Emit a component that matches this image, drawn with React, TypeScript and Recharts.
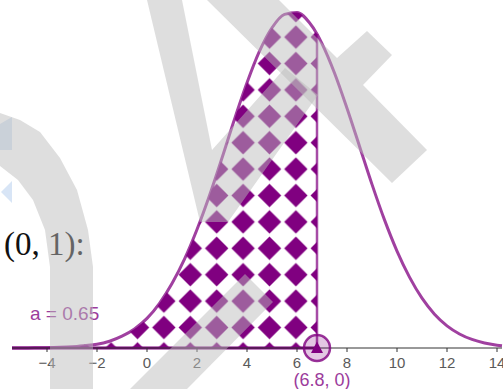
import React from 'react';
import {
  ComposedChart,
  Area,
  Line,
  XAxis,
  YAxis,
  ReferenceLine,
  ReferenceDot,
} from 'recharts';

// x positions along the axis and the curve height read at each of them
const xValues = [
  -5.4, -5, -4.5, -4, -3.5, -3, -2.5, -2, -1.5, -1, -0.5, 0, 0.5, 1, 1.5, 2, 2.5, 3, 3.5, 4,
  4.5, 5, 5.5, 6, 6.5, 6.8, 7, 7.5, 8, 8.5, 9, 9.5, 10, 10.5, 11, 11.5, 12, 12.5, 13, 13.5, 14,
  14.2,
];
const densityValues = [
  0.00002, 0.00004, 0.00008, 0.00016, 0.00032, 0.0006, 0.0011, 0.0017, 0.0031, 0.0054, 0.0087,
  0.0135, 0.0204, 0.0294, 0.0405, 0.054, 0.0695, 0.0866, 0.1043, 0.1209, 0.1353, 0.146, 0.1521,
  0.153, 0.1483, 0.1432, 0.1388, 0.1254, 0.1093, 0.092, 0.0746, 0.0584, 0.0442, 0.0323, 0.0227,
  0.0154, 0.0101, 0.0064, 0.0039, 0.0023, 0.0013, 0.001,
];
const xTicks = [-4, -2, 0, 2, 4, 6, 8, 10, 12, 14];

const cutoff = 6.8;
const cutoffDensity = 0.1432;
const areaLabel = 'a = 0.65';
const pointLabel = '(6.8, 0)';

const PURPLE = '#800080';
const LABEL_PURPLE = '#9c3c9c';

const rows = xValues.map((x, i) => ({
  x,
  y: densityValues[i],
  shade: x <= cutoff ? densityValues[i] : null,
}));

const fmtTick = (v: number) => (v < 0 ? `\u2212${-v}` : `${v}`);

const PointMarker = (props: any) => {
  const { cx, cy } = props;
  return (
    <g>
      <circle cx={cx} cy={cy} r={13} fill={PURPLE} fillOpacity={0.22} stroke={PURPLE} strokeOpacity={0.8} strokeWidth={2.5} />
      <path d={`M${cx - 6},${cy + 5} L${cx + 6},${cy + 5} L${cx},${cy - 6.5} Z`} fill={PURPLE} />
      <text
        x={cx + 5}
        y={cy + 38}
        textAnchor="middle"
        fontSize={18}
        fontFamily="Liberation Sans, Arial, sans-serif"
        fill={LABEL_PURPLE}
      >
        {pointLabel}
      </text>
    </g>
  );
};

export default function App() {
  return (
    <div style={{ position: 'absolute', left: 0, top: 0, width: 503, height: 389, background: '#fff' }}>
      <ComposedChart
        width={503}
        height={389}
        data={rows}
        margin={{ top: 8, right: 1, bottom: 11, left: 12 }}
      >
        <defs>
          <pattern id="diamonds" patternUnits="userSpaceOnUse" x={18.7} y={23.9} width={26.4} height={26.4}>
            <path d="M13.2,1.5 L24.9,13.2 L13.2,24.9 L1.5,13.2 Z" fill={PURPLE} />
          </pattern>
        </defs>
        <XAxis
          type="number"
          dataKey="x"
          domain={[-5.4, 14.2]}
          ticks={xTicks}
          interval={0}
          tickFormatter={fmtTick}
          height={30}
          tickSize={4}
          tickMargin={5}
          axisLine={{ stroke: '#333', strokeWidth: 1 }}
          tickLine={{ stroke: '#333' }}
          tick={{ fill: '#5a5a5a', fontSize: 15, fontFamily: 'Liberation Sans, Arial, sans-serif' }}
        />
        <YAxis type="number" domain={[0, 0.155]} hide />
        <Area
          type="monotone"
          dataKey="shade"
          fill="url(#diamonds)"
          fillOpacity={1}
          stroke="none"
          isAnimationActive={false}
        />
        <Line
          type="monotone"
          dataKey="y"
          stroke={PURPLE}
          strokeOpacity={0.75}
          strokeWidth={3}
          dot={false}
          isAnimationActive={false}
        />
        <ReferenceLine
          segment={[{ x: -5.4, y: 0 }, { x: cutoff, y: 0 }]}
          stroke={PURPLE}
          strokeWidth={3}
        />
        <ReferenceLine
          segment={[{ x: cutoff, y: 0 }, { x: cutoff, y: cutoffDensity }]}
          stroke={PURPLE}
          strokeOpacity={0.7}
          strokeWidth={2.5}
        />
        <ReferenceDot x={cutoff} y={0} r={13} shape={PointMarker} ifOverflow="visible" />
      </ComposedChart>

      <svg
        width={503}
        height={389}
        style={{ position: 'absolute', left: 0, top: 0, pointerEvents: 'none' }}
      >
        <text x={4} y={255} fontSize={33} fontFamily="Liberation Serif, Times New Roman, serif" fill="#111">
          (0, 1):
        </text>
        <text x={30} y={320} fontSize={19} fontFamily="Liberation Sans, Arial, sans-serif" fill={LABEL_PURPLE}>
          {areaLabel}
        </text>
        <path d="M0,124 L12,117 L12,150 L0,150 Z" fill="#d8e5f6" />
        <path d="M1,192 L12,181 L12,203 Z" fill="#d8e5f6" />
        <g fill="#bcbcbc" fillOpacity={0.49}>
          <path d="M0,113 L20,120 L40,132 L60,158 L77,190 L88,230 L93,267 L93,389 L50,389 L50,267 L45,230 L33,200 L18,180 L0,166 Z" />
          <path d="M147,0 L182,0 L212,150 L285,68 L318,95 L228,222 L200,222 Z" />
          <path d="M207,0 L279,0 L337,58 L367,31 L392,55 L363,85 L427,150 L392,183 Z" />
          <path d="M130,389 L187,389 L273,302 L245,274 Z" />
        </g>
      </svg>
    </div>
  );
}
